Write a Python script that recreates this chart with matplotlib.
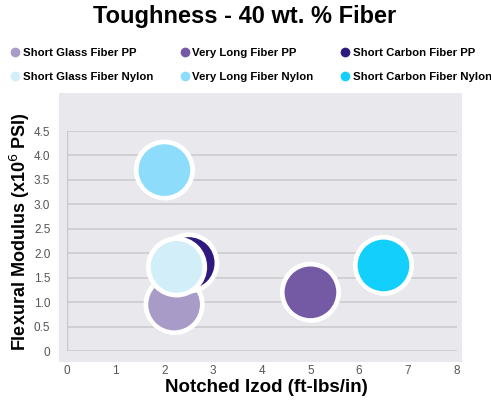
import matplotlib.pyplot as plt
from matplotlib.patches import Rectangle
import matplotlib.patheffects as pe

plt.rcParams['font.family'] = ['Liberation Sans', 'DejaVu Sans']

# data
materials = ["Short Glass Fiber PP", "Very Long Fiber PP", "Short Carbon Fiber PP",
             "Short Glass Fiber Nylon", "Very Long Fiber Nylon", "Short Carbon Fiber Nylon"]
izod = [2.2, 5.0, 2.5, 2.25, 2.0, 6.5]
modulus = [0.95, 1.2, 1.8, 1.72, 3.7, 1.75]
colors = ["#a99bc8", "#7459a4", "#2e1a7e", "#d2eef9", "#8edcfc", "#12cffb"]

W, H = 491, 405
fig = plt.figure(figsize=(W / 100, H / 100), dpi=100)

# gray plot panel behind the axes
fig.patches.append(Rectangle((59 / W, 1 - 362 / H), (461.5 - 59) / W, (362 - 93) / H,
                             transform=fig.transFigure, facecolor="#e9e9ed",
                             edgecolor="none", zorder=-1))

ax = fig.add_axes([67 / W, 1 - 351 / H, (456.5 - 67) / W, 220 / H])
ax.set_facecolor("none")
ax.set_xlim(0, 8)
ax.set_ylim(0, 4.5)
ax.set_xticks(range(0, 9))
yt = [i * 0.5 for i in range(10)]
ax.set_yticks(yt)
ax.set_yticklabels(["0"] + ["%.1f" % v for v in yt[1:]])
ax.grid(axis="y", color="#c9c9cc", linewidth=1.1)
ax.axvline(0, color="#c9c9cc", linewidth=1.0)
for s in ax.spines.values():
    s.set_visible(False)
ax.tick_params(length=0, labelsize=8.5, colors="#555555")
ax.tick_params(axis="x", pad=10)
ax.tick_params(axis="y", pad=12)
ax.set_axisbelow(True)

shadow = [pe.SimplePatchShadow(offset=(-1, -1.5), shadow_rgbFace="#555555", alpha=0.35), pe.Normal()]
for i in range(len(materials)):
    sc = ax.scatter(izod[i], modulus[i], s=1650, color=colors[i], edgecolors="white",
                    linewidths=3.4, zorder=3 + i, clip_on=False)
    sc.set_path_effects(shadow)

# legend is filled column by column, so reorder to read row by row
handles = []
for i in [0, 3, 1, 4, 2, 5]:
    h = plt.Line2D([], [], marker="o", linestyle="none", markersize=7,
                   markerfacecolor=colors[i], markeredgecolor="none", label=materials[i])
    handles.append(h)

fig.legend(handles=handles, ncol=3, loc="upper left", bbox_to_anchor=(5 / W, 1 - 43 / H),
           frameon=False, handletextpad=0.15, columnspacing=2.3,
           labelspacing=1.3, handlelength=1.0, borderaxespad=0,
           prop={"weight": "bold", "size": 8.2})

fig.text(245 / W, 1 - 17 / H, "Toughness - 40 wt. % Fiber", ha="center", va="center",
         fontsize=17, fontweight="bold")
fig.text(266 / W, 1 - 388 / H, "Notched Izod (ft-lbs/in)", ha="center", va="center",
         fontsize=13.5, fontweight="bold")
fig.text(20 / W, 1 - 232 / H, "Flexural Modulus (x10$^{6}$ PSI)", ha="center", va="center",
         rotation=90, fontsize=13, fontweight="bold")

fig.savefig("out.png", dpi=100)
